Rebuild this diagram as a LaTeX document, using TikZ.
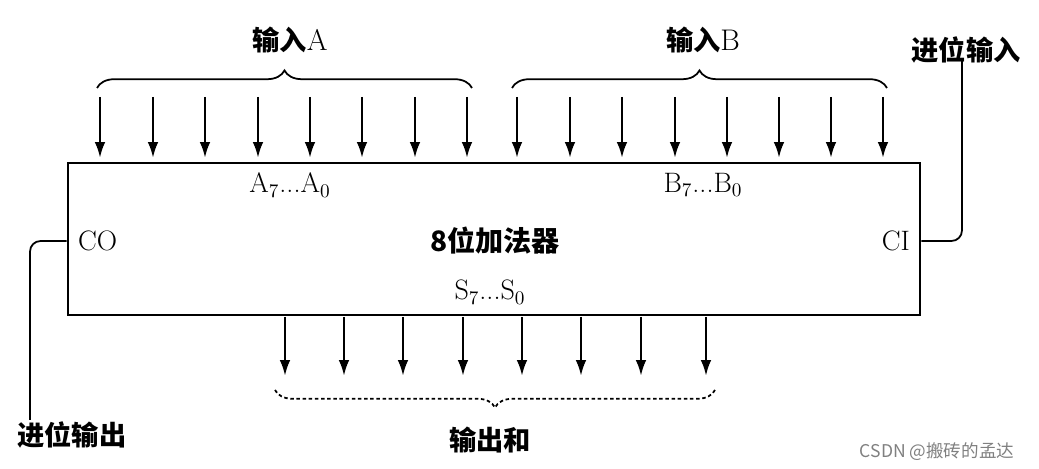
\documentclass[tikz,border=0pt]{standalone}
\usepackage{fontspec}
\newfontfamily\cjk{Noto Sans CJK SC}
\usetikzlibrary{arrows.meta,decorations.pathreplacing}
\begin{document}
\begin{tikzpicture}[x=0.02cm,y=-0.02cm,
  arr/.style={line width=1.4pt,-{Latex[length=9pt,width=6pt]}},
  lbl/.style={font=\cjk\bfseries\fontsize{15.5}{18}\selectfont},
  txt/.style={font=\fontsize{16}{18}\selectfont},
  br/.style={line width=1pt,decorate,decoration={brace,amplitude=10pt}}]
\useasboundingbox (0,0) rectangle (1039,469);
\node[draw,line width=1.6pt,minimum width=852*0.02cm,minimum height=152*0.02cm,inner sep=0] (box) at (494,239) {};
\foreach \x [count=\i] in {100,153,205,258,310,362,415,467}
  \draw[arr] (\x,97) coordinate (a\i) -- (\x,158) coordinate (ae\i);
\foreach \x [count=\i] in {517,570,622,675,727,779,831,883}
  \draw[arr] (\x,97) coordinate (b\i) -- (\x,158) coordinate (be\i);
\foreach \x [count=\i] in {285,344,403,463,522,581,641,706}
  \draw[arr] (\x,317) coordinate (s\i) -- (\x,376) coordinate (se\i);
\coordinate (ab1) at (97,88); \coordinate (ab2) at (472,88);
\coordinate (bb1) at (512,88); \coordinate (bb2) at (887,88);
\draw[br] (ab1) -- (ab2);
\draw[br] (bb1) -- (bb2);
\coordinate (sb1) at (715,390); \coordinate (sb2) at (275,390);
\draw[br,dash pattern=on 2pt off 1.5pt] (sb1) -- (sb2);
\node[lbl] (la) at (290,40) {输入\normalfont\fontsize{17}{19}\selectfont A};
\node[lbl] (lb) at (703,40) {输入\normalfont\fontsize{17}{19}\selectfont B};
\node[lbl] (ls) at (490,440) {输出和};
\node[lbl] (ci) at (966,50) {进位输入};
\node[lbl] (co) at (72,435) {进位输出};
\node[txt] (an) at (290,185) {A$_7$...A$_0$};
\node[txt] (bn) at (703,185) {B$_7$...B$_0$};
\node[txt] (sn) at (490,292) {S$_7$...S$_0$};
\node[lbl,font=\cjk\bfseries\fontsize{16}{18}\selectfont] (t) at (495,241) {8位加法器};
\node[txt,anchor=west] (cop) at (72,241) {CO};
\node[txt,anchor=east] (cip) at (916,241) {CI};
\draw[line width=1pt,rounded corners=6pt] (box.east |- cip) -- (962,241) -- (962,70) -- (ci.south -| 962,0);
\draw[line width=1pt,rounded corners=6pt] (box.west |- cop) -- (30,241) -- (30,420);
\node[font=\fontsize{10}{12}\selectfont\cjk,text=gray] (wm) at (937,452) {CSDN @搬砖的孟达};
\end{tikzpicture}
\end{document}
